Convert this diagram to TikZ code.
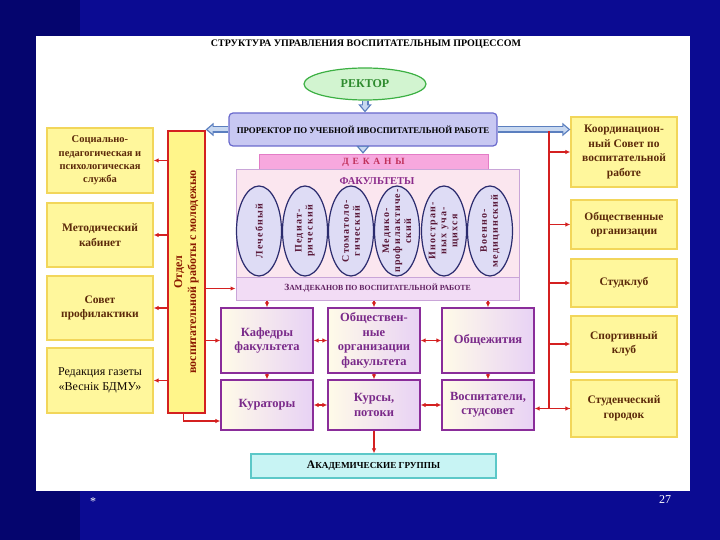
\documentclass[tikz,border=0pt]{standalone}
\usepackage{fontspec}
\setmainfont{Liberation Serif}
\usetikzlibrary{arrows.meta,shapes.geometric}

\definecolor{slide}{HTML}{0B0B92}
\definecolor{slidedark}{HTML}{05056E}
\definecolor{yfill}{HTML}{FFF79C}
\definecolor{ybord}{HTML}{F2D65A}
\definecolor{ytext}{HTML}{5C2A0A}
\definecolor{rline}{HTML}{D42020}
\definecolor{otfill}{HTML}{FFF58A}
\definecolor{ottext}{HTML}{8B1A00}
\definecolor{rekfill}{HTML}{D2F4D0}
\definecolor{rekbord}{HTML}{3CB043}
\definecolor{rektext}{HTML}{2E8B2E}
\definecolor{prfill}{HTML}{C8C8F2}
\definecolor{prbord}{HTML}{6A6ACD}
\definecolor{harbord}{HTML}{5B7FBF}
\definecolor{harfill}{HTML}{C8D8F0}
\definecolor{dekfill}{HTML}{F7A8DE}
\definecolor{dekbord}{HTML}{E37CC6}
\definecolor{dektext}{HTML}{C0305A}
\definecolor{facfill}{HTML}{FBE6EF}
\definecolor{facbord}{HTML}{C9A5D8}
\definecolor{factext}{HTML}{8B2A8B}
\definecolor{elfill}{HTML}{DEDCF5}
\definecolor{elbord}{HTML}{2B2B6E}
\definecolor{eltext}{HTML}{5A1A3A}
\definecolor{zamfill}{HTML}{F2DCF5}
\definecolor{zamtext}{HTML}{602060}
\definecolor{mbord}{HTML}{8A2D9A}
\definecolor{mfilla}{HTML}{FFFBE8}
\definecolor{mfillb}{HTML}{E8D2F5}
\definecolor{mtext}{HTML}{7A2A8A}
\definecolor{akfill}{HTML}{C8F4F4}
\definecolor{akbord}{HTML}{5CC8C8}

\tikzset{
  ybox/.style={draw=ybord, fill=yfill, line width=1.3pt, minimum width=106pt,
    align=center, text=ytext, inner sep=2pt,
    font=\bfseries\fontsize{11.5}{14.5}\selectfont},
  mbox/.style={draw=mbord, line width=1.3pt, left color=mfilla, right color=mfillb,
    minimum width=92pt, align=center, text=mtext, inner sep=1pt,
    font=\bfseries\fontsize{12.5}{14.5}\selectfont},
  fac/.style={ellipse, draw=elbord, fill=elfill, line width=1.2pt,
    minimum width=45pt, minimum height=90pt, inner sep=0pt},
  factxt/.style={rotate=90, align=center, inner sep=0pt, text=eltext,
    font=\bfseries\fontsize{10}{11}\selectfont\addfontfeature{LetterSpace=12}},
  redarr/.style={draw=rline, line width=1.3pt, -{Latex[length=5pt,width=4.5pt]}},
  dblarr/.style={draw=rline, line width=1.3pt, {Latex[length=5pt,width=4.5pt]}-{Latex[length=5pt,width=4.5pt]}},
  hollowarr/.style={draw=harbord, line width=7pt, -{Triangle[length=8pt,width=13pt]},
    postaction={draw=harfill, line width=4pt, shorten >=2pt,
      -{Triangle[length=5pt,width=8pt]}}}
}

\begin{document}
\begin{tikzpicture}[x=1pt,y=-1pt]
% slide
\fill[slide] (0,0) rectangle (720,540);
\fill[slidedark] (0,0) rectangle (80,540);
\fill[white] (36,36) rectangle (690,491);
\node[text=white, font=\fontsize{12}{12}\selectfont] (star) at (93,502) {*};
\node[text=white, font=\fontsize{12}{12}\selectfont] (page) at (665,500) {27};

\node[font=\bfseries\fontsize{10}{11}\selectfont] (title) at (366,44)
  {СТРУКТУРА УПРАВЛЕНИЯ ВОСПИТАТЕЛЬНЫМ ПРОЦЕССОМ};

% top
\node[ellipse, draw=rekbord, fill=rekfill, line width=1.2pt, minimum width=122pt,
  minimum height=32pt, text=rektext, font=\bfseries\fontsize{12}{13}\selectfont]
  (rektor) at (365,84) {РЕКТОР};
\node[draw=prbord, fill=prfill, line width=1.2pt, rounded corners=4pt,
  minimum width=268pt, minimum height=33pt, font=\bfseries\fontsize{8.8}{9}\selectfont]
  (prorektor) at (363,129.5) {ПРОРЕКТОР ПО УЧЕБНОЙ ИВОСПИТАТЕЛЬНОЙ РАБОТЕ};
\node[draw=dekbord, fill=dekfill, minimum width=229pt, minimum height=16pt, inner sep=0pt,
  text=dektext, font=\bfseries\fontsize{9.5}{10}\selectfont\addfontfeature{LetterSpace=40}]
  (dekany) at (373.5,162) {ДЕКАНЫ};
\node[draw=facbord, fill=facfill, line width=1pt, minimum width=283pt, minimum height=130pt]
  (fakultety) at (377.5,235) {};
\node[draw=facbord, fill=zamfill, line width=1pt, minimum width=283pt, minimum height=23pt,
  inner sep=0pt, text=zamtext, font=\bfseries\fontsize{7.8}{8}\selectfont]
  (zam) at (377.5,288.5) {{\fontsize{9.5}{9}\selectfont З}АМ.ДЕКАНОВ ПО ВОСПИТАТЕЛЬНОЙ РАБОТЕ};

% faculties
\node[fac] (lech) at (259,231) {};
\node[fac] (ped) at (305,231) {};
\node[fac] (stom) at (351,231) {};
\node[fac] (med) at (397,231) {};
\node[fac] (inostr) at (444,231) {};
\node[fac] (voen) at (490,231) {};
\node[factxt] (lechtxt) at (lech) {Лечебный};
\node[factxt] (pedtxt) at (ped) {Педиат-\\рический};
\node[factxt] (stomtxt) at (stom) {Стоматоло-\\гический};
\node[factxt] (medtxt) at (med) {Медико-\\профилактиче-\\ский};
\node[factxt] (inostrtxt) at (inostr) {Иностран-\\ных уча-\\щихся};
\node[factxt] (voentxt) at (voen) {Военно-\\медицинский};
\node[text=factext, font=\bfseries\fontsize{10.5}{11}\selectfont] (factitle) at (377,181) {ФАКУЛЬТЕТЫ};

% left side
\node[ybox, minimum height=65pt, font=\bfseries\fontsize{10.5}{13.3}\selectfont] (soc) at (100,160.5)
  {Социально-\\педагогическая и\\психологическая\\служба};
\node[ybox, minimum height=64pt] (metod) at (100,235) {Методический\\кабинет};
\node[ybox, minimum height=64pt] (sovet) at (100,308) {Совет\\профилактики};
\node[ybox, minimum height=65pt, text=black!80!ytext, font=\fontsize{12}{15}\selectfont] (redak) at (100,380.5)
  {Редакция газеты\\«Веснік БДМУ»};
\node[draw=rline, fill=otfill, line width=1.2pt, minimum width=37pt, minimum height=282pt]
  (otdel) at (186.5,272) {};
\node[rotate=90, align=center, text=ottext, font=\bfseries\fontsize{12}{14}\selectfont]
  (otdeltxt) at (otdel.center) {Отдел\\воспитательной работы с молодежью};

% right side
\node[ybox, minimum height=70pt] (koord) at (624,152)
  {Координацион-\\ный Совет по\\воспитательной\\работе};
\node[ybox, minimum height=49pt] (obshorg) at (624,224.5) {Общественные\\организации};
\node[ybox, minimum height=48pt] (studklub) at (624,283) {Студклуб};
\node[ybox, minimum height=56pt] (sport) at (624,344) {Спортивный\\клуб};
\node[ybox, minimum height=57pt] (gorodok) at (624,408.5) {Студенческий\\городок};

% middle
\node[mbox, minimum height=65pt] (kafedry) at (267,340.5) {Кафедры\\факультета};
\node[mbox, minimum height=65pt] (obshfac) at (374,340.5) {Обществен-\\ные\\организации\\факультета};
\node[mbox, minimum height=65pt] (obshezh) at (488,340.5) {Общежития};
\node[mbox, minimum height=50pt] (kuratory) at (267,405) {Кураторы};
\node[mbox, minimum height=50pt] (kursy) at (374,405) {Курсы,\\потоки};
\node[mbox, minimum height=50pt] (vospit) at (488,405) {Воспитатели,\\студсовет};
\node[draw=akbord, fill=akfill, line width=1.2pt, minimum width=245pt, minimum height=24pt,
  font=\bfseries\fontsize{9.2}{10}\selectfont] (akad) at (373.5,466)
  {{\fontsize{11.5}{10}\selectfont А}КАДЕМИЧЕСКИЕ ГРУППЫ};

% blue arrows
\draw[hollowarr] (rektor.south) -- (rektor.south |- prorektor.north);
\draw[hollowarr, xshift=2pt] (prorektor.south) -- (prorektor.south |- dekany.north);
\draw[hollowarr, yshift=-4.5pt] (prorektor.west) -- (prorektor.west -| otdel.east);
\draw[hollowarr, yshift=3.5pt] (prorektor.east) -- (prorektor.east -| koord.west);

% red links, left
\draw[redarr, yshift=-9.5pt] (otdel.west |- soc.east) -- (soc.east);
\draw[redarr] (otdel.west |- metod.east) -- (metod.east);
\draw[redarr] (otdel.west |- sovet.east) -- (sovet.east);
\draw[redarr] (otdel.west |- redak.east) -- (redak.east);
\draw[redarr, yshift=5pt] (otdel.east |- zam.west) -- (zam.west);
\draw[redarr] (otdel.east |- kafedry.west) -- (kafedry.west);
\draw[redarr] ([xshift=-3pt]otdel.south) |- ([yshift=-16pt]kuratory.west);

% red links, right
\coordinate (bus) at (549,131);
\draw[redarr] (bus) |- (gorodok.west);
\draw[redarr, yshift=-18pt] (bus |- koord.west) -- (koord.west);
\draw[redarr] (bus |- obshorg.west) -- (obshorg.west);
\draw[redarr] (bus |- studklub.west) -- (studklub.west);
\draw[redarr, yshift=4pt] (bus |- sport.west) -- (sport.west);
\draw[redarr, yshift=-12.5pt] (gorodok.west) -- (gorodok.west -| vospit.east);

% red links, middle
\draw[redarr, xshift=8pt] (kafedry.north |- zam.south) -- (kafedry.north);
\draw[redarr, xshift=-8pt] (obshfac.north |- zam.south) -- (obshfac.north);
\draw[redarr, xshift=-8pt] (obshezh.north |- zam.south) -- (obshezh.north);
\draw[redarr, xshift=6pt] (kafedry.south) -- (kuratory.north);
\draw[redarr, xshift=-8pt] (obshfac.south) -- (kursy.north);
\draw[redarr, xshift=-3pt] (obshezh.south) -- (vospit.north);
\draw[dblarr] (kafedry.east) -- (obshfac.west);
\draw[dblarr] (obshfac.east) -- (obshezh.west);
\draw[dblarr] (kuratory.east) -- (kursy.west);
\draw[dblarr] (kursy.east) -- (vospit.west);
\draw[redarr, xshift=-8pt] (kursy.south) -- (kursy.south |- akad.north);
\end{tikzpicture}
\end{document}
